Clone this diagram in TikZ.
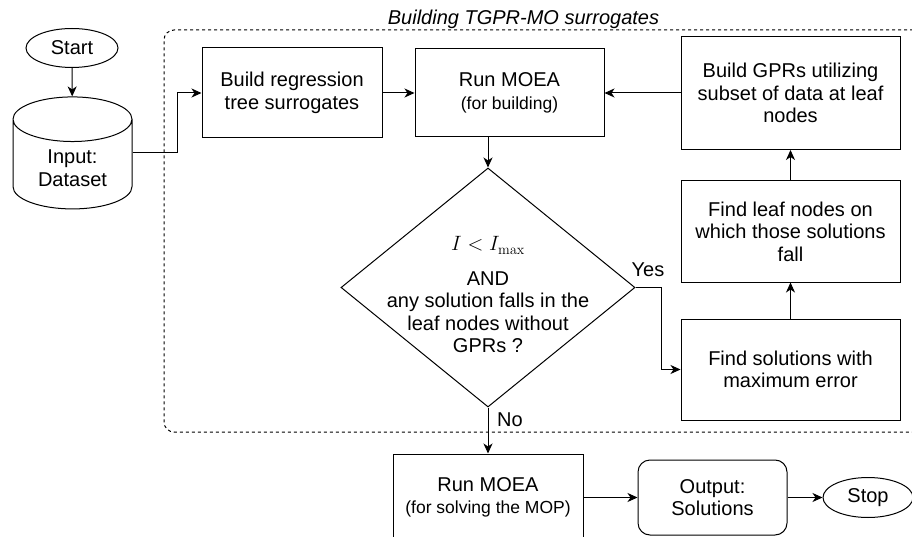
\documentclass[tikz,border=0pt]{standalone}
\usepackage[no-math]{fontspec}
\setmainfont{Liberation Sans}
\usetikzlibrary{shapes.geometric,arrows.meta,positioning}
\newcommand{\smalltxt}[1]{{\fontsize{17.5}{20}\selectfont #1}}
\begin{document}
\begin{tikzpicture}[x=1pt, y=-1pt, line width=1pt, font=\fontsize{20}{22.5}\selectfont,
        >={Stealth[length=10pt,width=9pt,inset=3pt]},
        box/.style={draw, align=center, inner sep=0pt, minimum width=219pt, minimum height=101pt},
        term/.style={draw, ellipse, inner sep=0pt, minimum width=92pt, minimum height=39pt}]
        \path[use as bounding box, fill=white] (0,0) rectangle (912,537);
        % group frame
        \draw[dash pattern=on 3pt off 3pt, rounded corners=10pt] (913,30) -| (164,432) -- (913,432);
        \node[anchor=base, font=\fontsize{20}{22.5}\selectfont\itshape] (title) at (523.5,25) {Building TGPR-MO surrogates};
        % nodes
        \node[term] (start) at (72,48) {Start};
        \node[draw, cylinder, shape border rotate=90, aspect=0.59, minimum width=119pt, minimum height=112pt, align=center] (data) at (72.5,168) {Input:\\Dataset};
        \node[box, minimum width=180pt, minimum height=90pt] (tree) at (292,93) {Build regression\\tree surrogates};
        \node[box, minimum width=189pt, minimum height=88pt] (moea) at (509.5,93) {Run MOEA\\\smalltxt{(for building)}};
        \node[box, minimum height=113pt] (gpr) at (790.5,93) {Build GPRs utilizing\\subset of data at leaf\\nodes};
        \node[box] (leaf) at (790.5,231.5) {Find leaf nodes on\\which those solutions\\fall};
        \node[box] (err) at (790.5,369.5) {Find solutions with\\maximum error};
        \node[draw, diamond, inner sep=0pt, minimum width=294pt, minimum height=239pt] (cond) at (488,287.5) {};
        \node[align=center] (condtxt) at (488,295) {$I<I_{\max}$\\[12pt]AND\\any solution falls in the\\leaf nodes without\\GPRs ?};
        \node (yes) at (648,270) {Yes};
        \node (no) at (510,420) {No};
        \node[box, minimum width=190pt, minimum height=87pt] (solve) at (488,497.5) {Run MOEA\\\smalltxt{(for solving the MOP)}};
        \node[box, rounded corners=12pt, minimum width=149pt, minimum height=75pt] (out) at (712.5,497.5) {Output:\\Solutions};
        \node[term, minimum width=90pt, minimum height=40pt] (stop) at (868,497.5) {Stop};
        % connectors
        \draw[->] (start) -- (data);
        \draw[->] (data.shape center -| data.east) -- ++(45,0) |- (tree.west);
        \draw[->] (tree) -- (moea);
        \draw[->] (gpr) -- (moea);
        \draw[->] (moea.south -| cond.north) -- (cond.north);
        \draw[->] (cond.east) -- ++(26,0) |- (err.west);
        \draw[->] (err) -- (leaf);
        \draw[->] (leaf) -- (gpr);
        \draw[->] (cond.south) -- (solve.north);
        \draw[->] (solve) -- (out);
        \draw[->] (out) -- (stop);
\end{tikzpicture}
\end{document}
